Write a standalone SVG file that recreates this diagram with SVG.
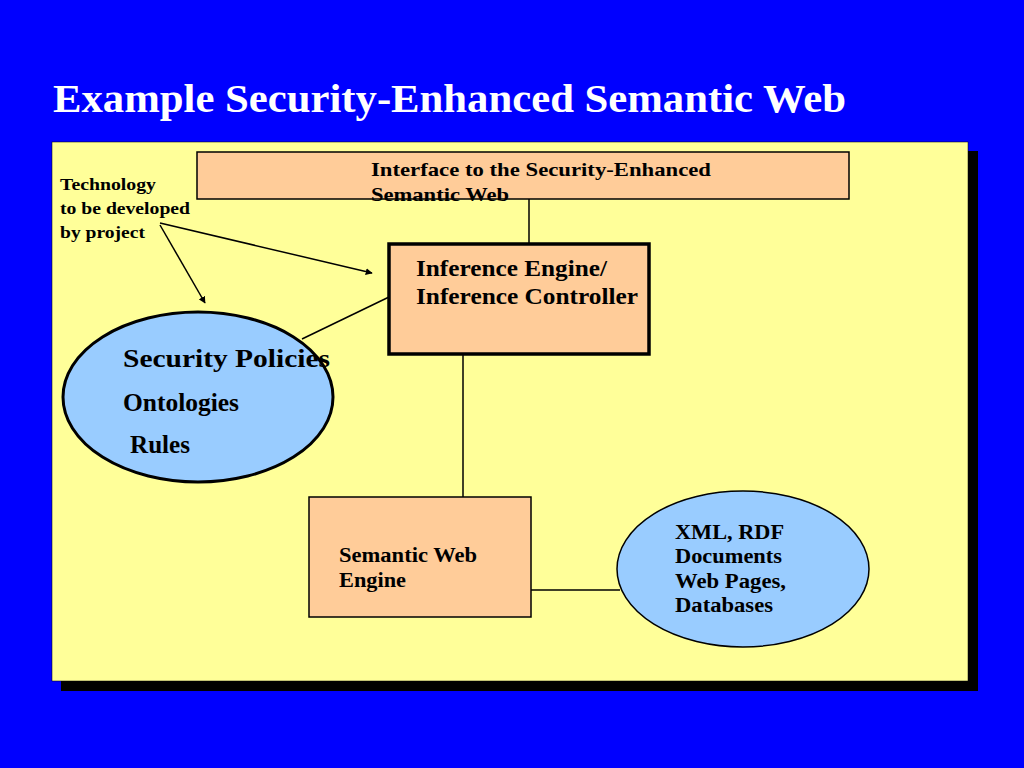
<svg xmlns="http://www.w3.org/2000/svg" width="1024" height="768" viewBox="0 0 1024 768">
<defs>
<style>
.t{font-family:"Liberation Serif","Times New Roman",serif;font-weight:bold;fill:#000}
.box{fill:#FFCC99;stroke:#000;stroke-width:1.5}
.ell{fill:#99CCFF;stroke:#000}
.ln{stroke:#000;stroke-width:1.5;fill:none}
</style>
<marker id="ah" viewBox="0 0 10 10" refX="9" refY="5" markerWidth="7" markerHeight="7" orient="auto" markerUnits="userSpaceOnUse">
<path d="M0,0 L10,5 L0,10 z" fill="#000"/>
</marker>
</defs>
<rect x="0" y="0" width="1024" height="768" fill="#0000FF"/>
<text x="53" y="112" class="t" style="fill:#fff;font-size:41px" textLength="793" lengthAdjust="spacingAndGlyphs">Example Security-Enhanced Semantic Web</text>
<rect x="61" y="151" width="917" height="540" fill="#000"/>
<rect x="52" y="142" width="916" height="539" fill="#FFFF99" stroke="#000" stroke-width="0.5"/>
<g id="connectors">
<line class="ln" x1="529" y1="199" x2="529" y2="244"/>
<line class="ln" x1="463" y1="354" x2="463" y2="497"/>
<line class="ln" x1="531" y1="590" x2="620" y2="590"/>
<line class="ln" x1="389" y1="297" x2="302" y2="339"/>
<line class="ln" x1="160" y1="223" x2="372" y2="273" marker-end="url(#ah)"/>
<line class="ln" x1="160" y1="225" x2="205" y2="303" marker-end="url(#ah)"/>
</g>
<g id="technology" class="t" style="font-size:17px">
<text x="60" y="190" class="t" textLength="96" lengthAdjust="spacingAndGlyphs">Technology</text>
<text x="60" y="214" class="t" textLength="130" lengthAdjust="spacingAndGlyphs">to be developed</text>
<text x="60" y="238" class="t" textLength="85" lengthAdjust="spacingAndGlyphs">by project</text>
</g>
<g id="interface">
<rect class="box" x="197" y="152" width="652" height="47"/>
<g class="t" style="font-size:19px">
<text x="371" y="176" class="t" textLength="340" lengthAdjust="spacingAndGlyphs">Interface to the Security-Enhanced</text>
<text x="371" y="201" class="t" textLength="138" lengthAdjust="spacingAndGlyphs">Semantic Web</text>
</g>
</g>
<g id="inference">
<rect class="box" x="389" y="244" width="260" height="110" style="stroke-width:3.5"/>
<g class="t" style="font-size:24px">
<text x="416" y="276" class="t" textLength="191" lengthAdjust="spacingAndGlyphs">Inference Engine/</text>
<text x="416" y="304" class="t" textLength="222" lengthAdjust="spacingAndGlyphs">Inference Controller</text>
</g>
</g>
<g id="policies">
<ellipse class="ell" cx="198" cy="397" rx="135" ry="85" stroke-width="3"/>
<g class="t" style="font-size:25px">
<text x="123" y="367" class="t" textLength="207" lengthAdjust="spacingAndGlyphs">Security Policies</text>
<text x="123" y="411" class="t" textLength="116" lengthAdjust="spacingAndGlyphs">Ontologies</text>
<text x="130" y="453" class="t" textLength="60" lengthAdjust="spacingAndGlyphs">Rules</text>
</g>
</g>
<g id="semweb">
<rect class="box" x="309" y="497" width="222" height="120"/>
<g class="t" style="font-size:20px">
<text x="339" y="562" class="t" textLength="138" lengthAdjust="spacingAndGlyphs">Semantic Web</text>
<text x="339" y="587" class="t" textLength="67" lengthAdjust="spacingAndGlyphs">Engine</text>
</g>
</g>
<g id="data">
<ellipse class="ell" cx="743" cy="569" rx="126" ry="78" stroke-width="1.5"/>
<g class="t" style="font-size:20px">
<text x="675" y="539" class="t" textLength="109" lengthAdjust="spacingAndGlyphs">XML, RDF</text>
<text x="675" y="563" class="t" textLength="107" lengthAdjust="spacingAndGlyphs">Documents</text>
<text x="675" y="588" class="t" textLength="111" lengthAdjust="spacingAndGlyphs">Web Pages,</text>
<text x="675" y="612" class="t" textLength="98" lengthAdjust="spacingAndGlyphs">Databases</text>
</g>
</g>
</svg>
